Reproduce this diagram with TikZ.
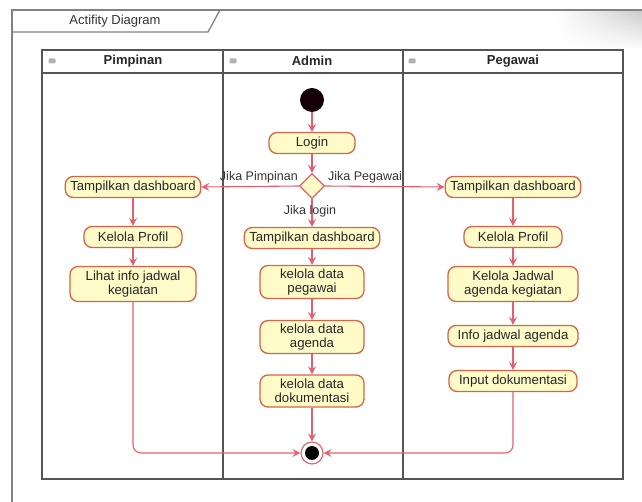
\documentclass[tikz,border=0pt]{standalone}
\usepackage{fontspec}
\setmainfont{Liberation Sans}
\usetikzlibrary{arrows.meta,shapes.geometric,fadings}

\definecolor{edgecol}{RGB}{228,95,110}
\definecolor{boxline}{RGB}{214,100,72}
\definecolor{boxfill}{RGB}{254,251,200}
\definecolor{framecol}{RGB}{130,130,130}
\definecolor{lanecol}{RGB}{85,85,85}

\tikzset{
  action/.style={draw=boxline, fill=boxfill, line width=1.3pt, rounded corners=8pt,
    inner xsep=5pt, inner ysep=3pt, align=center, font=\fontsize{13.2}{14.5}\selectfont,
    text=black!85},
  flow/.style={draw=edgecol, line width=1.1pt, rounded corners=8pt,
    -{Stealth[length=8pt,width=8pt,inset=3pt]}},
  guard/.style={font=\fontsize{12.5}{14}\selectfont, text=black!80, inner sep=1pt},
  lanehead/.style={font=\bfseries\fontsize{13}{15}\selectfont, text=black!85},
  laneicon/.style={fill=black!30, rounded corners=1pt, minimum width=7pt,
    minimum height=5pt, inner sep=0pt},
  decision/.style={diamond, draw=edgecol, fill=boxfill, line width=1.2pt,
    minimum width=25pt, minimum height=25pt, inner sep=0pt, aspect=1},
  startnode/.style={circle, fill={rgb,255:red,20;green,0;blue,8}, minimum size=24pt, inner sep=0pt},
  endnode/.style={circle, draw=edgecol, fill=white, line width=1.1pt, minimum size=22pt, inner sep=0pt}
}

\begin{document}
\begin{tikzpicture}[x=1pt,y=-1pt]
\useasboundingbox (0,0) rectangle (642,502);

% page shading in the upper right corner
\shade[left color=white, right color=black!20, path fading=south] (555,11) rectangle (642,50);

% outer frame and title tab
\draw[framecol, line width=1.8pt] (642,10) -- (12,10) -- (12,502);
\draw[framecol, line width=1.3pt] (12,32) -- (208,32) -- (220,10);
\node[font=\fontsize{13}{15}\selectfont, text=black!80] (title) at (115,21) {Actifity Diagram};

% swimlanes
\draw[lanecol, line width=1.6pt] (42,50) rectangle (623,479);
\draw[lanecol, line width=1.4pt] (42,73) -- (623,73);
\draw[lanecol, line width=1.6pt] (223,50) -- (223,479);
\draw[lanecol, line width=1.6pt] (403,50) -- (403,479);

\node[laneicon] (ic1) at (52,61) {};
\node[laneicon] (ic2) at (233,61) {};
\node[laneicon] (ic3) at (412,61) {};
\node[lanehead] (h1) at (133,61) {Pimpinan};
\node[lanehead] (h2) at (312,61) {Admin};
\node[lanehead] (h3) at (513,61) {Pegawai};

% Admin lane
\node[startnode] (start) at (312,100) {};
\node[action, minimum width=86pt, minimum height=21pt] (login) at (312,143) {Login};
\node[decision] (dec) at (312,186) {};
\node[action, minimum height=21pt] (adash) at (312,238) {Tampilkan dashboard};
\node[action, minimum width=104pt, minimum height=33pt] (apeg) at (312,282) {kelola data\\pegawai};
\node[action, minimum width=104pt, minimum height=32pt] (aagd) at (312,337) {kelola data\\agenda};
\node[action, minimum width=104pt, minimum height=32pt] (adok) at (312,391) {kelola data\\dokumentasi};
\node[endnode] (stop) at (312,453) {};
\fill[black] (stop.center) circle (7pt);

% Pimpinan lane
\node[action, minimum height=21pt] (pdash) at (133,187) {Tampilkan dashboard};
\node[action, minimum width=98pt, minimum height=21pt] (pprof) at (133,237) {Kelola Profil};
\node[action, minimum width=126pt, minimum height=35pt] (pinfo) at (133,284) {Lihat info jadwal\\kegiatan};

% Pegawai lane
\node[action, minimum height=21pt] (gdash) at (513,187) {Tampilkan dashboard};
\node[action, minimum width=98pt, minimum height=21pt] (gprof) at (513,237) {Kelola Profil};
\node[action, minimum width=130pt, minimum height=35pt] (gjad) at (513,284) {Kelola Jadwal\\agenda kegiatan};
\node[action, minimum width=130pt, minimum height=21pt] (ginfo) at (513,336) {Info jadwal agenda};
\node[action, minimum width=128pt, minimum height=21pt] (ginput) at (513,381) {Input dokumentasi};

% control flow
\draw[flow] (start) -- (login);
\draw[flow] (login) -- (dec);
\draw[flow] (dec.west) -- (pdash.east);
\draw[flow] (dec.east) -- (gdash.west);
\draw[flow] (dec.south) -- (adash.north);
\node[guard, anchor=south east] (gl1) at (299,184) {Jika Pimpinan};
\node[guard, anchor=south west] (gl2) at (327,184) {Jika Pegawai};
\node[guard] (gl3) at (310,211) {Jika login};

\draw[flow] (adash) -- (apeg);
\draw[flow] (apeg) -- (aagd);
\draw[flow] (aagd) -- (adok);
\draw[flow] (adok) -- (stop);

\draw[flow] (pdash) -- (pprof);
\draw[flow] (pprof) -- (pinfo);
\draw[flow] (pinfo.south) |- (stop.west);

\draw[flow] (gdash) -- (gprof);
\draw[flow] (gprof) -- (gjad);
\draw[flow] (gjad) -- (ginfo);
\draw[flow] (ginfo) -- (ginput);
\draw[flow] (ginput.south) |- (stop.east);
\end{tikzpicture}
\end{document}
